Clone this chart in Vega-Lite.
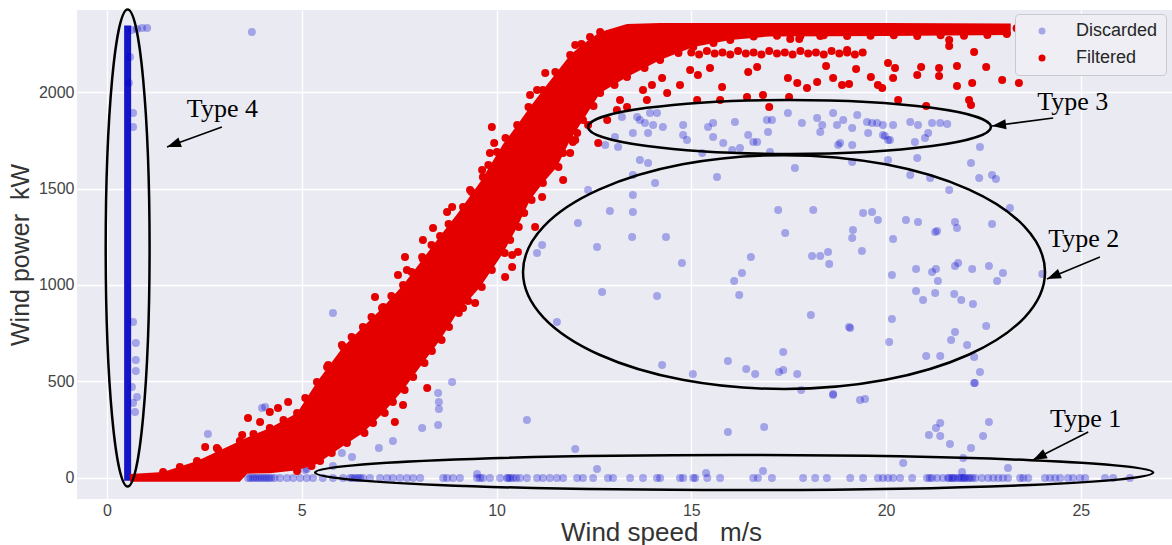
{
"$schema": "https://vega.github.io/schema/vega-lite/v6.json",
"width": 1095, "height": 489,
"autosize": {"type": "none"},
"padding": {"left": 77, "top": 10, "right": 0, "bottom": 46},
"background": "white",
"config": {
 "view": {"fill": "#EAEAF2", "stroke": null},
 "axis": {"domain": false, "ticks": false, "gridColor": "#ffffff", "gridWidth": 1.3, "labelFont": "Liberation Sans", "labelFontSize": 16, "labelColor": "#444444", "titleFont": "Liberation Sans", "titleFontSize": 25, "titleColor": "#333333", "titleFontWeight": "normal"},
 "legend": {"orient": "none", "legendX": 938, "legendY": 4, "title": null, "fillColor": "#eeeef4", "strokeColor": "#c8c8d0", "cornerRadius": 4, "padding": 8, "labelFont": "Liberation Sans", "labelFontSize": 18, "labelColor": "#262626", "symbolSize": 49, "symbolType": "circle", "rowPadding": 9, "labelOffset": 25, "symbolOffset": 10}
},
"encoding": {
 "x": {"field": "x", "type": "quantitative", "scale": {"domain": [-0.77, 27.34], "nice": false, "zero": false}, "axis": {"values": [0, 5, 10, 15, 20, 25], "format": "d", "title": "Wind speed\u00a0\u00a0 m/s", "titleX": 584, "titleFontSize": 26, "labelPadding": 3, "titlePadding": 1}},
 "y": {"field": "y", "type": "quantitative", "scale": {"domain": [-109, 2425], "nice": false, "zero": false}, "axis": {"values": [0, 500, 1000, 1500, 2000], "format": "d", "title": "Wind power\u00a0 kW", "labelPadding": 3, "titlePadding": 5}}
},
"layer": [
 {
  "data": {"values": [{"x": 0.44, "x2": 0.62, "y": -15, "y2": 2345}]},
  "mark": {"type": "rect", "color": "#1515c8"},
  "encoding": {"x2": {"field": "x2"}, "y2": {"field": "y2"}}
 },
 {
  "data": {"values": [
   {"x":0.64,"y":2321},{"x":0.77,"y":2326},{"x":0.90,"y":2332},{"x":1.03,"y":2332},{"x":3.72,"y":2311},{"x":0.67,"y":1891},{"x":0.67,"y":1819},{"x":0.59,"y":2181},{"x":0.56,"y":2047},{"x":0.67,"y":389},{"x":0.72,"y":342},{"x":0.77,"y":420},{"x":0.64,"y":472},{"x":0.67,"y":808},{"x":0.74,"y":699},{"x":0.74,"y":611},{"x":0.74,"y":554},
   {"x":2.59,"y":228},{"x":3.98,"y":363},{"x":4.06,"y":368},{"x":5.80,"y":855},{"x":5.08,"y":41},{"x":6.03,"y":130},{"x":6.29,"y":109},{"x":6.98,"y":155},{"x":7.34,"y":192},{"x":8.09,"y":259},{"x":8.86,"y":497},{"x":8.50,"y":440},{"x":8.52,"y":394},{"x":8.52,"y":358},{"x":8.50,"y":275},{"x":5.80,"y":62},{"x":5.13,"y":47},{"x":10.78,"y":301},{"x":12.02,"y":150},{"x":12.58,"y":47},{"x":15.38,"y":26},{"x":15.94,"y":238},
   {"x":18.64,"y":435},{"x":19.33,"y":404},{"x":19.46,"y":409},{"x":16.87,"y":264},{"x":21.39,"y":285},{"x":21.28,"y":259},{"x":21.10,"y":223},{"x":21.39,"y":218},{"x":21.64,"y":176},{"x":22.64,"y":290},{"x":22.49,"y":218},{"x":22.18,"y":155},{"x":21.98,"y":104},{"x":20.44,"y":78},{"x":22.28,"y":492},{"x":23.13,"y":52},{"x":21.95,"y":31},{"x":16.84,"y":36},{"x":9.50,"y":21},
   {"x":3.62,"y":0},{"x":3.68,"y":0},{"x":3.74,"y":0},{"x":3.80,"y":0},{"x":3.86,"y":0},{"x":3.92,"y":0},{"x":3.98,"y":0},{"x":4.04,"y":0},{"x":4.10,"y":0},{"x":4.16,"y":0},{"x":4.22,"y":0},{"x":4.30,"y":0},
   {"x":4.44,"y":0},{"x":4.62,"y":0},{"x":4.78,"y":0},{"x":4.96,"y":0},{"x":5.13,"y":0},{"x":5.29,"y":0},{"x":5.54,"y":0},{"x":5.80,"y":0},{"x":6.06,"y":0},{"x":6.24,"y":0},{"x":6.30,"y":0},{"x":6.37,"y":0},{"x":6.44,"y":0},{"x":6.50,"y":0},{"x":6.57,"y":0},{"x":6.75,"y":0},{"x":7.01,"y":0},{"x":7.19,"y":0},{"x":7.34,"y":0},{"x":7.52,"y":0},{"x":7.70,"y":0},{"x":7.86,"y":0},{"x":8.04,"y":0},{"x":8.63,"y":0},{"x":8.73,"y":0},{"x":8.88,"y":0},{"x":9.06,"y":0},{"x":9.50,"y":0},{"x":9.58,"y":0},{"x":9.65,"y":0},{"x":9.83,"y":0},{"x":10.09,"y":0},{"x":10.27,"y":0},{"x":10.30,"y":0},{"x":10.35,"y":0},{"x":10.42,"y":0},{"x":10.50,"y":0},{"x":10.60,"y":0},{"x":10.78,"y":0},{"x":11.04,"y":0},{"x":11.19,"y":0},{"x":11.37,"y":0},{"x":11.55,"y":0},{"x":11.71,"y":0},{"x":12.07,"y":0},{"x":12.22,"y":0},{"x":12.48,"y":0},{"x":12.86,"y":0},{"x":12.99,"y":0},{"x":13.43,"y":0},{"x":13.76,"y":0},{"x":14.12,"y":0},{"x":14.20,"y":0},{"x":14.71,"y":0},{"x":14.79,"y":0},{"x":15.05,"y":0},{"x":15.10,"y":0},{"x":15.41,"y":0},{"x":15.74,"y":0},
   {"x":16.59,"y":0},{"x":16.71,"y":0},{"x":17.07,"y":0},{"x":17.87,"y":0},{"x":18.18,"y":0},{"x":18.48,"y":0},{"x":19.08,"y":0},{"x":19.41,"y":0},{"x":19.79,"y":0},{"x":19.92,"y":0},{"x":20.05,"y":0},{"x":20.18,"y":0},{"x":20.36,"y":0},{"x":20.67,"y":0},{"x":21.05,"y":0},{"x":21.12,"y":0},{"x":21.18,"y":0},{"x":21.31,"y":0},{"x":21.46,"y":0},{"x":21.59,"y":0},{"x":21.62,"y":0},{"x":21.69,"y":0},{"x":21.72,"y":0},{"x":21.77,"y":0},{"x":21.85,"y":0},{"x":21.90,"y":0},{"x":21.95,"y":0},{"x":22.00,"y":0},{"x":22.03,"y":0},{"x":22.10,"y":0},{"x":22.15,"y":0},{"x":22.21,"y":0},{"x":22.29,"y":0},{"x":22.46,"y":0},{"x":22.62,"y":0},{"x":22.75,"y":0},{"x":22.88,"y":0},{"x":23.00,"y":0},{"x":23.13,"y":0},{"x":23.44,"y":0},{"x":23.52,"y":0},{"x":23.65,"y":0},{"x":24.08,"y":0},{"x":24.21,"y":0},{"x":24.34,"y":0},{"x":24.47,"y":0},{"x":24.67,"y":0},{"x":24.80,"y":0},{"x":24.98,"y":0},{"x":25.11,"y":0},{"x":25.62,"y":0},{"x":25.83,"y":0},{"x":26.26,"y":0},
   {"x":13.22,"y":1870},{"x":13.61,"y":1870},{"x":13.68,"y":1855},{"x":13.81,"y":1839},{"x":14.02,"y":1829},{"x":14.27,"y":1819},{"x":13.94,"y":1891},{"x":14.12,"y":1891},{"x":13.50,"y":1788},{"x":13.89,"y":1788},{"x":13.04,"y":1767},{"x":12.79,"y":1725},{"x":13.12,"y":1715},{"x":14.79,"y":1829},{"x":14.79,"y":1777},{"x":14.89,"y":1751},{"x":15.43,"y":1819},{"x":15.56,"y":1839},{"x":15.56,"y":1767},{"x":15.82,"y":1736},{"x":16.12,"y":1845},{"x":16.46,"y":1777},{"x":16.69,"y":1741},{"x":16.94,"y":1855},{"x":16.97,"y":1793},{"x":17.07,"y":1855},{"x":17.48,"y":1891},{"x":17.84,"y":1839},{"x":18.23,"y":1865},{"x":18.31,"y":1793},{"x":18.36,"y":1829},{"x":18.64,"y":1891},{"x":18.74,"y":1829},{"x":18.90,"y":1855},{"x":19.13,"y":1813},{"x":19.26,"y":1881},{"x":19.51,"y":1845},{"x":19.64,"y":1839},{"x":19.77,"y":1839},{"x":19.92,"y":1829},{"x":19.54,"y":1788},{"x":19.92,"y":1777},{"x":20.10,"y":1751},{"x":18.82,"y":1736},{"x":19.13,"y":1725},{"x":20.18,"y":1829},{"x":20.62,"y":1845},{"x":20.82,"y":1829},{"x":21.18,"y":1839},{"x":21.39,"y":1839},{"x":21.57,"y":1834},{"x":21.08,"y":1788},{"x":21.00,"y":1762},{"x":20.74,"y":1741},{"x":19.97,"y":1772},{"x":20.05,"y":1751},{"x":18.77,"y":1725},{"x":16.59,"y":1741},{"x":22.41,"y":1715},{"x":17.66,"y":1606},{"x":15.66,"y":1560},{"x":15.28,"y":1684},{"x":13.68,"y":1648},{"x":13.89,"y":1632},{"x":14.07,"y":1528},{"x":13.50,"y":1570},{"x":13.50,"y":1466},{"x":12.35,"y":1492},{"x":19.13,"y":1637},{"x":20.05,"y":1648},{"x":17.02,"y":1689},{"x":16.05,"y":1699},{"x":16.25,"y":1710},
   {"x":12.91,"y":1383},{"x":13.50,"y":1378},{"x":12.09,"y":1321},{"x":11.17,"y":1207},{"x":11.04,"y":1166},{"x":12.58,"y":1197},{"x":13.48,"y":1249},{"x":14.35,"y":1249},{"x":14.76,"y":1114},{"x":12.71,"y":964},{"x":14.12,"y":943},{"x":11.55,"y":808},{"x":17.23,"y":1389},{"x":18.13,"y":1389},{"x":17.41,"y":1269},{"x":19.41,"y":1373},{"x":19.64,"y":1378},{"x":19.15,"y":1285},{"x":19.13,"y":1244},{"x":19.38,"y":1176},{"x":18.51,"y":1171},{"x":18.31,"y":1150},{"x":18.10,"y":1150},{"x":18.54,"y":1109},{"x":16.53,"y":1145},{"x":16.30,"y":1062},{"x":16.10,"y":1021},{"x":16.23,"y":948},{"x":18.07,"y":845},{"x":19.05,"y":782},{"x":17.36,"y":653},{"x":15.94,"y":606},{"x":16.41,"y":565},{"x":16.64,"y":539},{"x":17.25,"y":549},{"x":17.36,"y":560},{"x":17.72,"y":539},{"x":14.25,"y":585},{"x":15.04,"y":539},{"x":17.82,"y":456},{"x":18.64,"y":430},{"x":19.79,"y":1337},{"x":22.18,"y":1632},{"x":20.80,"y":1658},{"x":20.62,"y":1570},{"x":21.13,"y":1554},{"x":21.62,"y":1492},{"x":22.39,"y":1554},{"x":22.72,"y":1570},{"x":22.82,"y":1549},{"x":23.18,"y":1399},{"x":22.72,"y":1316},{"x":20.51,"y":1337},{"x":20.82,"y":1326},{"x":21.26,"y":1275},{"x":21.31,"y":1280},{"x":21.77,"y":1326},{"x":21.82,"y":1295},{"x":20.18,"y":1238},{"x":20.15,"y":1052},{"x":20.77,"y":1083},{"x":21.18,"y":1067},{"x":21.28,"y":1083},{"x":21.33,"y":1021},{"x":21.77,"y":1098},{"x":21.85,"y":1114},{"x":22.21,"y":1083},{"x":22.64,"y":1098},{"x":23.00,"y":1062},{"x":22.85,"y":1021},{"x":24.01,"y":1057},{"x":20.77,"y":969},{"x":20.95,"y":922},{"x":21.26,"y":959},{"x":21.75,"y":953},{"x":21.93,"y":922},{"x":22.23,"y":902},{"x":20.15,"y":824},{"x":22.57,"y":788},{"x":21.77,"y":756},{"x":21.67,"y":715},{"x":22.08,"y":689},{"x":20.08,"y":705},{"x":21.03,"y":632},{"x":21.39,"y":632},{"x":22.26,"y":627},{"x":22.41,"y":549},{"x":22.26,"y":492},{"x":19.08,"y":777}
  ]},
  "mark": {"type": "point", "filled": true, "size": 64, "opacity": 1, "strokeWidth": 0},
  "encoding": {"color": {"datum": "Discarded", "type": "nominal", "scale": {"domain": ["Discarded", "Filtered"], "range": ["rgba(0,0,204,0.3)", "#e50000"]}}}
 },
 {
  "data": {"values": [
   {"x":0.59,"y":20,"y2":-20},{"x":1.44,"y":31,"y2":-20},{"x":2.31,"y":88,"y2":-20},{"x":3.41,"y":192,"y2":-20},{"x":3.60,"y":210,"y2":22},{"x":4.18,"y":259,"y2":25},{"x":4.88,"y":337,"y2":40},{"x":5.39,"y":497,"y2":73},{"x":6.06,"y":679,"y2":166},{"x":6.57,"y":782,"y2":233},{"x":7.09,"y":886,"y2":337},{"x":7.60,"y":1000,"y2":456},{"x":8.11,"y":1135,"y2":596},{"x":8.55,"y":1254,"y2":715},{"x":8.99,"y":1368,"y2":855},{"x":9.58,"y":1534,"y2":990},{"x":10.17,"y":1731,"y2":1166},{"x":10.53,"y":1829,"y2":1301},{"x":10.86,"y":1922,"y2":1440},{"x":11.19,"y":2010,"y2":1528},{"x":11.55,"y":2104,"y2":1611},{"x":11.89,"y":2192,"y2":1751},{"x":12.22,"y":2249,"y2":1855},{"x":12.66,"y":2311,"y2":1995},{"x":13.35,"y":2352,"y2":2078},{"x":14.20,"y":2358,"y2":2166},{"x":15.05,"y":2358,"y2":2233},{"x":16.00,"y":2358,"y2":2269},{"x":17.00,"y":2358,"y2":2288},{"x":20.00,"y":2358,"y2":2290},{"x":23.20,"y":2355,"y2":2295}
  ]},
  "mark": {"type": "area", "color": "#e50000", "opacity": 1},
  "encoding": {"y2": {"field": "y2"}}
 },
 {
  "data": {"values": [
   {"x":2.52,"y":161},{"x":2.82,"y":155},{"x":3.47,"y":223},{"x":3.62,"y":311},{"x":3.93,"y":290},{"x":4.18,"y":342},{"x":4.39,"y":363},{"x":4.65,"y":394},{"x":5.65,"y":575},{"x":6.03,"y":689},{"x":6.44,"y":725},{"x":6.88,"y":938},{"x":7.39,"y":290},{"x":7.60,"y":378},{"x":8.22,"y":466},
   {"x":9.88,"y":1819},{"x":9.94,"y":1736},{"x":9.83,"y":1684},{"x":9.63,"y":1596},{"x":9.32,"y":1492},{"x":8.86,"y":1404},{"x":8.73,"y":1378},{"x":8.37,"y":1295},{"x":8.11,"y":1233},{"x":8.09,"y":1145},{"x":7.65,"y":1145},{"x":7.70,"y":1078},{"x":7.47,"y":1052},{"x":7.06,"y":881},{"x":10.99,"y":1301},{"x":10.40,"y":1155},{"x":10.55,"y":1171},{"x":10.40,"y":1093},{"x":10.22,"y":1041},{"x":9.45,"y":907},{"x":9.14,"y":881},{"x":11.17,"y":1456},{"x":11.71,"y":1544},{"x":11.96,"y":1741},{"x":11.89,"y":1684},{"x":12.07,"y":1788},
   {"x":1.44,"y":31},{"x":1.87,"y":57},{"x":2.31,"y":88},{"x":2.86,"y":145},{"x":3.41,"y":192},{"x":3.76,"y":228},{"x":4.18,"y":259},{"x":4.53,"y":301},{"x":4.88,"y":337},{"x":5.09,"y":415},{"x":5.39,"y":497},{"x":5.68,"y":585},{"x":6.06,"y":679},{"x":6.28,"y":731},{"x":6.57,"y":782},{"x":6.79,"y":834},{"x":7.09,"y":886},{"x":7.30,"y":943},{"x":7.60,"y":1000},{"x":7.82,"y":1067},{"x":8.11,"y":1135},{"x":8.33,"y":1207},{"x":8.55,"y":1254},{"x":8.77,"y":1316},{"x":9.14,"y":1404},{"x":9.36,"y":1482},{"x":9.65,"y":1560},{"x":9.79,"y":1622},{"x":10.01,"y":1689},{"x":10.23,"y":1762},{"x":10.53,"y":1829},{"x":10.82,"y":1922},{"x":11.19,"y":2010},{"x":11.51,"y":2104},{"x":11.89,"y":2192},{"x":12.18,"y":2249},{"x":12.66,"y":2311},
   {"x":4.88,"y":36},{"x":5.25,"y":62},{"x":5.47,"y":88},{"x":5.77,"y":130},{"x":6.16,"y":181},{"x":6.61,"y":233},{"x":6.83,"y":285},{"x":7.13,"y":337},{"x":7.34,"y":394},{"x":7.64,"y":456},{"x":7.86,"y":523},{"x":8.15,"y":596},{"x":8.34,"y":658},{"x":8.59,"y":715},{"x":8.78,"y":782},{"x":9.03,"y":855},{"x":9.27,"y":917},{"x":9.62,"y":990},{"x":9.88,"y":1078},{"x":10.21,"y":1166},{"x":10.35,"y":1233},{"x":10.57,"y":1301},{"x":10.71,"y":1373},{"x":10.90,"y":1440},{"x":11.19,"y":1528},{"x":11.59,"y":1611},{"x":11.71,"y":1684},{"x":11.93,"y":1751},{"x":12.22,"y":1855},{"x":12.49,"y":1927},{"x":12.66,"y":1995},{"x":13.03,"y":2036},{"x":13.35,"y":2078},{"x":13.80,"y":2124},{"x":14.20,"y":2166},{"x":14.67,"y":2202},{"x":15.05,"y":2233},{"x":15.57,"y":2254},{"x":16.00,"y":2269},{"x":16.6,"y":2288},{"x":17.2,"y":2292},{"x":17.8,"y":2290},{"x":18.4,"y":2294},{"x":19.0,"y":2290},{"x":19.6,"y":2292},{"x":20.2,"y":2294},{"x":20.8,"y":2290},{"x":21.4,"y":2294},{"x":22.0,"y":2292},{"x":22.6,"y":2296},{"x":23.1,"y":2300},
   {"x":10.86,"y":1984},{"x":11.04,"y":2010},{"x":11.25,"y":2098},{"x":12.02,"y":2244},{"x":12.40,"y":2285},{"x":12.35,"y":1829},{"x":12.61,"y":1736},{"x":12.02,"y":1751},{"x":12.84,"y":1855},{"x":13.09,"y":1907},{"x":13.17,"y":1959},{"x":13.35,"y":1922},{"x":13.76,"y":2010},{"x":13.86,"y":1959},{"x":13.99,"y":2036},{"x":14.25,"y":2073},{"x":14.38,"y":1995},{"x":14.71,"y":2036},{"x":14.97,"y":2114},{"x":15.15,"y":1959},{"x":15.17,"y":2088},{"x":15.48,"y":2124},{"x":15.79,"y":2026},{"x":15.74,"y":1959},{"x":16.43,"y":1974},{"x":16.46,"y":2104},{"x":16.69,"y":2130},{"x":17.00,"y":1922},{"x":17.48,"y":2073},{"x":17.72,"y":2047},{"x":17.97,"y":2021},{"x":18.23,"y":2052},{"x":18.46,"y":2135},{"x":18.64,"y":2073},{"x":18.87,"y":2036},{"x":19.05,"y":2041},{"x":19.23,"y":2119},{"x":19.61,"y":2078},{"x":19.79,"y":2036},{"x":19.90,"y":2021},{"x":20.05,"y":2150},{"x":20.23,"y":2124},{"x":20.18,"y":2073},{"x":20.31,"y":1959},{"x":20.80,"y":2088},{"x":20.90,"y":2130},{"x":21.36,"y":2124},{"x":21.36,"y":2083},{"x":21.82,"y":2135},{"x":21.82,"y":2031},{"x":22.21,"y":2047},{"x":22.57,"y":2130},{"x":22.98,"y":2062},{"x":23.41,"y":2047},{"x":21.62,"y":2238},{"x":22.26,"y":2207},{"x":21.03,"y":1927},{"x":22.13,"y":1959},{"x":22.18,"y":1933},{"x":17.51,"y":1974},{"x":16.84,"y":1984},{"x":17.54,"y":2275},{"x":17.77,"y":2275},{"x":18.31,"y":2290},{"x":19.00,"y":2218},{"x":21.62,"y":2269},{"x":23.35,"y":2330},
   {"x":15.0,"y":2205},{"x":15.2,"y":2195},{"x":15.4,"y":2212},{"x":15.6,"y":2200},{"x":15.8,"y":2205},{"x":16.0,"y":2195},{"x":16.2,"y":2212},{"x":16.4,"y":2200},{"x":16.6,"y":2205},{"x":16.8,"y":2195},{"x":17.0,"y":2212},{"x":17.2,"y":2200},{"x":17.4,"y":2205},{"x":17.6,"y":2195},{"x":17.8,"y":2212},{"x":18.0,"y":2200},{"x":18.2,"y":2205},{"x":18.4,"y":2195},{"x":18.6,"y":2212},{"x":18.8,"y":2200},{"x":19.0,"y":2205},{"x":19.2,"y":2195},{"x":19.4,"y":2205}
  ]},
  "mark": {"type": "point", "filled": true, "size": 64, "opacity": 1, "strokeWidth": 0},
  "encoding": {"color": {"datum": "Filtered", "type": "nominal", "scale": {"domain": ["Discarded", "Filtered"], "range": ["rgba(0,0,204,0.3)", "#e50000"]}}}
 },
 {
  "data": {"values": [{"x": 16.10, "y": 28}]},
  "mark": {"type": "point", "shape": "M1,0C1,0.0231 0.5523,0.0418 0,0.0418C-0.5523,0.0418 -1,0.0231 -1,0C-1,-0.0231 -0.5523,-0.0418 0,-0.0418C0.5523,-0.0418 1,-0.0231 1,0Z", "size": 702244, "filled": false, "color": "black", "strokeWidth": 2.5, "opacity": 1}
 },
 {
  "data": {"values": [{"x": 17.38, "y": 1067}]},
  "mark": {"type": "point", "shape": "M1,0C1,0.2474 0.5523,0.448 0,0.448C-0.5523,0.448 -1,0.2474 -1,0C-1,-0.2474 -0.5523,-0.448 0,-0.448C0.5523,-0.448 1,-0.2474 1,0Z", "size": 272484, "filled": false, "color": "black", "strokeWidth": 2.5, "opacity": 1}
 },
 {
  "data": {"values": [{"x": 17.52, "y": 1819}]},
  "mark": {"type": "point", "shape": "M1,0C1,0.074 0.5523,0.134 0,0.134C-0.5523,0.134 -1,0.074 -1,0C-1,-0.074 -0.5523,-0.134 0,-0.134C0.5523,-0.134 1,-0.074 1,0Z", "size": 162409, "filled": false, "color": "black", "strokeWidth": 2.5, "opacity": 1}
 },
 {
  "data": {"values": [{"x": 0.53, "y": 1192}]},
  "mark": {"type": "point", "shape": "M0.092,0C0.092,0.5523 0.0508,1 0,1C-0.0508,1 -0.092,0.5523 -0.092,0C-0.092,-0.5523 -0.0508,-1 0,-1C0.0508,-1 0.092,-0.5523 0.092,0Z", "size": 227529, "filled": false, "color": "black", "strokeWidth": 2.5, "opacity": 1}
 },
 {
  "data": {"values": [{"x":2.95,"y":1819,"x2":1.54,"y2":1715},{"x":24.29,"y":1865,"x2":22.72,"y2":1824},{"x":25.49,"y":1145,"x2":24.13,"y2":1031},{"x":25.19,"y":238,"x2":23.77,"y2":93}]},
  "mark": {"type": "rule", "color": "black", "strokeWidth": 1.5},
  "encoding": {"x2": {"field": "x2"}, "y2": {"field": "y2"}}
 },
 {
  "data": {"values": [{"x": 1.54, "y": 1715}]},
  "mark": {"type": "point", "shape": "M0,0L-1,-0.36L-1,0.36Z", "size": 784, "angle": 160, "filled": true, "color": "black", "opacity": 1, "strokeWidth": 0}
 },
 {
  "data": {"values": [{"x": 22.72, "y": 1824}]},
  "mark": {"type": "point", "shape": "M0,0L-1,-0.36L-1,0.36Z", "size": 784, "angle": 172.5, "filled": true, "color": "black", "opacity": 1, "strokeWidth": 0}
 },
 {
  "data": {"values": [{"x": 24.13, "y": 1031}]},
  "mark": {"type": "point", "shape": "M0,0L-1,-0.36L-1,0.36Z", "size": 784, "angle": 157.5, "filled": true, "color": "black", "opacity": 1, "strokeWidth": 0}
 },
 {
  "data": {"values": [{"x": 23.77, "y": 93}]},
  "mark": {"type": "point", "shape": "M0,0L-1,-0.36L-1,0.36Z", "size": 784, "angle": 153, "filled": true, "color": "black", "opacity": 1, "strokeWidth": 0}
 },
 {
  "data": {"values": [{"x":2.05,"y":1870,"label":"Type 4"},{"x":23.88,"y":1907,"label":"Type 3"},{"x":24.16,"y":1197,"label":"Type 2"},{"x":24.21,"y":264,"label":"Type 1"}]},
  "mark": {"type": "text", "font": "Liberation Serif", "fontSize": 26, "align": "left", "baseline": "alphabetic", "color": "black"},
  "encoding": {"text": {"field": "label"}}
 }
]
}
